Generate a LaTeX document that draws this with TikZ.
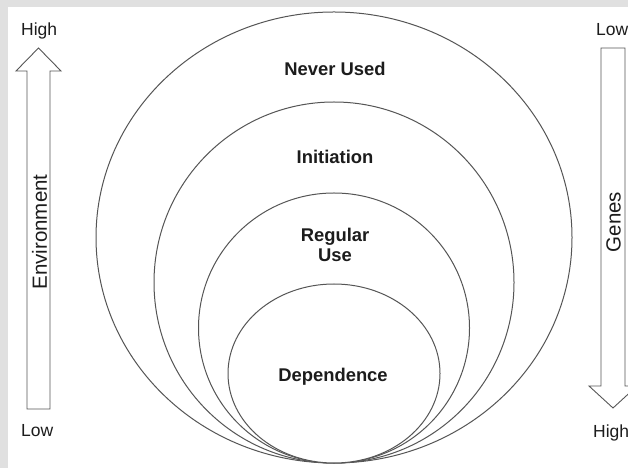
\documentclass[tikz,border=0pt]{standalone}
\usepackage{fontspec}
\setmainfont{Liberation Sans}
\usetikzlibrary{shapes.geometric}
\definecolor{framegrey}{RGB}{224,224,224}
\definecolor{linegrey}{RGB}{85,85,85}
\definecolor{txt}{RGB}{28,28,28}
\tikzset{
  ring/.style={draw=linegrey, line width=1pt, ellipse, inner sep=0pt, fill=white},
  bigarrow/.style={draw=linegrey, line width=0.9pt, fill=white, line join=miter},
  stage/.style={inner sep=0pt, text=txt, font=\bfseries\fontsize{18.4}{20}\selectfont},
  axislabel/.style={inner sep=0pt, text=txt, font=\fontsize{17.5}{20}\selectfont},
  axisname/.style={inner sep=0pt, text=txt, rotate=90, font=\fontsize{20.5}{22}\selectfont}
}
\begin{document}
\begin{tikzpicture}[x=1pt,y=1pt]
\useasboundingbox (0,0) rectangle (628,468);
\fill[framegrey] (0,0) rectangle (628,468);
\fill[white] (8,0) rectangle (628,461);

% nested circles
\node[ring, minimum width=476pt, minimum height=451pt] (never) at (334,230.5) {};
\node[ring, minimum width=360pt, minimum height=361pt] (init) at (334,185.5) {};
\node[ring, minimum width=271pt, minimum height=270pt] (regular) at (334,140) {};
\node[ring, minimum width=212pt, minimum height=179pt] (dep) at (334,94.5) {};

% stage labels
\node[stage, anchor=base] (tnever) at (335,392) {Never Used};
\node[stage, anchor=base] (tinit) at (335,304) {Initiation};
\node[stage, anchor=base] (treg) at (335,226.3) {Regular};
\node[stage, anchor=base] (tuse) at (335,206.3) {Use};
\node[stage, anchor=base] (tdep) at (333,86.3) {Dependence};

% left arrow (Environment)
\draw[bigarrow] (27,59) -- (27,397) -- (16,397) -- (38.5,420) -- (61,397) -- (50,397) -- (50,59) -- cycle;
\node[axisname] (env) at (39.5,236) {Environment};
\node[axislabel, anchor=base west] (lhigh) at (21,432) {High};
\node[axislabel, anchor=base west] (llow) at (21,32) {Low};

% right arrow (Genes)
\draw[bigarrow] (601,420) -- (601,82) -- (589,82) -- (613,60) -- (637,82) -- (625,82) -- (625,420) -- cycle;
\node[axisname] (genes) at (613.5,246) {Genes};
\node[axislabel, anchor=base west] (rlow) at (596,432) {Low};
\node[axislabel, anchor=base west] (rhigh) at (593,31) {High};
\end{tikzpicture}
\end{document}
